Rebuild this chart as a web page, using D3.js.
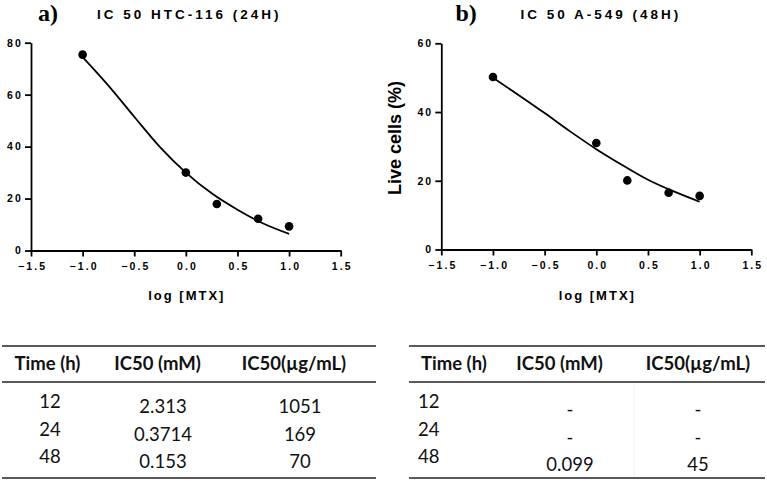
<!DOCTYPE html>
<html>
<head>
<meta charset="utf-8">
<script src="https://cdn.jsdelivr.net/npm/d3@7"></script>
<style>
  body { margin: 0; background: #fff; }
  svg { display: block; }
</style>
</head>
<body>
<div id="chart"></div>
<script>
// dose points (log [MTX]) and measured live cells
const doseLog = [-1.0, 0.0, 0.3, 0.7, 1.0];
const hctLive = [75.4, 30.0, 17.9, 12.2, 9.3];
const a549Live = [50.2, 31.0, 20.1, 16.5, 15.6];

// fitted curves
const fitX = [-1.0, -0.75, -0.5, -0.25, 0.0, 0.25, 0.5, 0.75, 1.0];
const hctFit = [74.5, 63.5, 51.5, 39.8, 30.0, 22.0, 15.7, 10.4, 6.4];
const a549Fit = [50.0, 44.9, 39.7, 34.3, 29.2, 24.6, 20.3, 16.9, 13.9];

const xTicks = [-1.5, -1.0, -0.5, 0.0, 0.5, 1.0, 1.5];
const hctYTicks = [0, 20, 40, 60, 80];
const a549YTicks = [0, 20, 40, 60];

// tables
const tableHeaders = ["Time (h)", "IC50 (mM)", "IC50(µg/mL)"];
const times = ["12", "24", "48"];
const hctIc50mM = ["2.313", "0.3714", "0.153"];
const hctIc50ug = ["1051", "169", "70"];
const a549Ic50mM = ["-", "-", "0.099"];
const a549Ic50ug = ["-", "-", "45"];

var width = 767, height = 482;
var sans = "'Liberation Sans', Arial, sans-serif";

var svg = d3.select("#chart").append("svg")
    .attr("width", width)
    .attr("height", height);

function styleAxis(sel) {
  sel.selectAll("path, line").attr("stroke", "#000").attr("stroke-width", 1.8);
  sel.selectAll("text")
      .attr("font-family", sans)
      .attr("font-weight", "bold")
      .attr("font-size", 10.5)
      .attr("letter-spacing", "2.1px")
      .attr("fill", "#000");
}

function drawPanel(opts) {
  var x = d3.scaleLinear().domain([-1.5, 1.5]).range(opts.xRange);
  var y = d3.scaleLinear().domain([0, opts.yMax]).range(opts.yRange);
  var g = svg.append("g");

  var gx = g.append("g")
      .attr("transform", "translate(0," + opts.yRange[0] + ")")
      .call(d3.axisBottom(x).tickValues(xTicks).tickFormat(d3.format(".1f"))
        .tickSize(6).tickSizeOuter(0).tickPadding(6));
  styleAxis(gx);
  gx.selectAll("text").attr("dx", "1.05px");

  var gy = g.append("g")
      .attr("transform", "translate(" + opts.xRange[0] + ",0)")
      .call(d3.axisLeft(y).tickValues(opts.yTicks).tickFormat(d3.format("d"))
        .tickSize(6).tickSizeOuter(0).tickPadding(2));
  styleAxis(gy);

  var line = d3.line()
      .x(function (d, i) { return x(fitX[i]); })
      .y(function (d) { return y(d); })
      .curve(d3.curveMonotoneX);

  g.append("path")
      .datum(opts.fit)
      .attr("fill", "none")
      .attr("stroke", "#000")
      .attr("stroke-width", 1.8)
      .attr("d", line);

  g.selectAll(".dot")
      .data(opts.live)
      .enter().append("circle")
      .attr("class", "dot")
      .attr("cx", function (d, i) { return x(doseLog[i]); })
      .attr("cy", function (d) { return y(d); })
      .attr("r", 4.3)
      .attr("fill", "#000");

  var cx = (opts.xRange[0] + opts.xRange[1]) / 2;

  // panel letter
  g.append("text")
      .attr("x", opts.letterX)
      .attr("y", 20.5)
      .attr("font-family", "'Liberation Serif', 'Times New Roman', serif")
      .attr("font-weight", "bold")
      .attr("font-size", 24)
      .text(opts.letter);

  // title
  g.append("text")
      .attr("x", cx + opts.titleDx + 1.5)
      .attr("y", 18.5)
      .attr("text-anchor", "middle")
      .attr("font-family", sans)
      .attr("font-weight", "bold")
      .attr("font-size", 13.5)
      .attr("letter-spacing", "3px")
      .text(opts.title);

  // x label
  g.append("text")
      .attr("x", cx + 1)
      .attr("y", 299.5)
      .attr("text-anchor", "middle")
      .attr("font-family", sans)
      .attr("font-weight", "bold")
      .attr("font-size", 13)
      .attr("letter-spacing", "2px")
      .text("log [MTX]");

  if (opts.yLabel) {
    g.append("text")
        .attr("transform", "translate(" + opts.yLabelX + "," + 138 + ") rotate(-90)")
        .attr("text-anchor", "middle")
        .attr("font-family", sans)
        .attr("font-weight", "bold")
        .attr("font-size", 18)
        .text(opts.yLabel);
  }
}

drawPanel({
  xRange: [31, 340.7], yRange: [250.5, 42.7], yMax: 80, yTicks: hctYTicks,
  live: hctLive, fit: hctFit,
  letter: "a)", letterX: 38, title: "IC 50 HTC-116 (24H)", titleDx: 2
});

drawPanel({
  xRange: [441.3, 751.3], yRange: [249.5, 43.3], yMax: 60, yTicks: a549YTicks,
  live: a549Live, fit: a549Fit,
  letter: "b)", letterX: 455.5, title: "IC 50 A-549 (48H)", titleDx: 3,
  yLabel: "Live cells (%)", yLabelX: 401
});

function drawTable(opts) {
  var g = svg.append("g");
  var rows = times.map(function (t, i) { return [t, opts.mM[i], opts.ug[i]]; });

  [346, 382, 478].forEach(function (ly) {
    g.append("line")
        .attr("x1", opts.x0).attr("x2", opts.x1)
        .attr("y1", ly).attr("y2", ly)
        .attr("stroke", "#222")
        .attr("stroke-width", 1.6);
  });

  if (opts.faintLine) {
    g.append("line")
        .attr("x1", opts.faintLine).attr("x2", opts.faintLine)
        .attr("y1", 383).attr("y2", 477)
        .attr("stroke", "#eee")
        .attr("stroke-width", 1);
  }

  g.selectAll(".head")
      .data(tableHeaders)
      .enter().append("text")
      .attr("x", function (d, i) { return opts.headX[i]; })
      .attr("y", 364)
      .attr("dy", "0.35em")
      .attr("text-anchor", function (d, i) { return opts.headAnchor[i]; })
      .attr("font-family", "Lato, 'Open Sans', sans-serif")
      .attr("font-weight", "bold")
      .attr("font-size", 18.5)
      .attr("fill", "#111")
      .text(function (d) { return d; });

  rows.forEach(function (row, r) {
    g.selectAll(".cell" + r)
        .data(row)
        .enter().append("text")
        .attr("x", function (d, i) { return opts.cellX[i]; })
        .attr("y", function (d, i) { return opts.rowY[r] + (i === 0 ? 0 : opts.valueDy); })
        .attr("dy", "0.35em")
        .attr("text-anchor", function (d, i) { return opts.cellAnchor[i]; })
        .attr("font-family", "Lato, 'Open Sans', sans-serif")
        .attr("font-size", 18.5)
        .attr("fill", "#111")
        .text(function (d) { return d; });
  });
}

drawTable({
  x0: 2, x1: 376,
  mM: hctIc50mM, ug: hctIc50ug,
  headX: [47.5, 157.5, 294], headAnchor: ["middle", "middle", "middle"],
  cellX: [50, 163, 300], cellAnchor: ["middle", "middle", "middle"],
  rowY: [402, 430, 457], valueDy: 5
});

drawTable({
  x0: 409, x1: 765,
  mM: a549Ic50mM, ug: a549Ic50ug,
  headX: [421, 559.5, 698], headAnchor: ["start", "middle", "middle"],
  cellX: [418, 570, 698], cellAnchor: ["start", "middle", "middle"],
  rowY: [402, 430, 457], valueDy: 8, faintLine: 634
});
</script>
</body>
</html>
